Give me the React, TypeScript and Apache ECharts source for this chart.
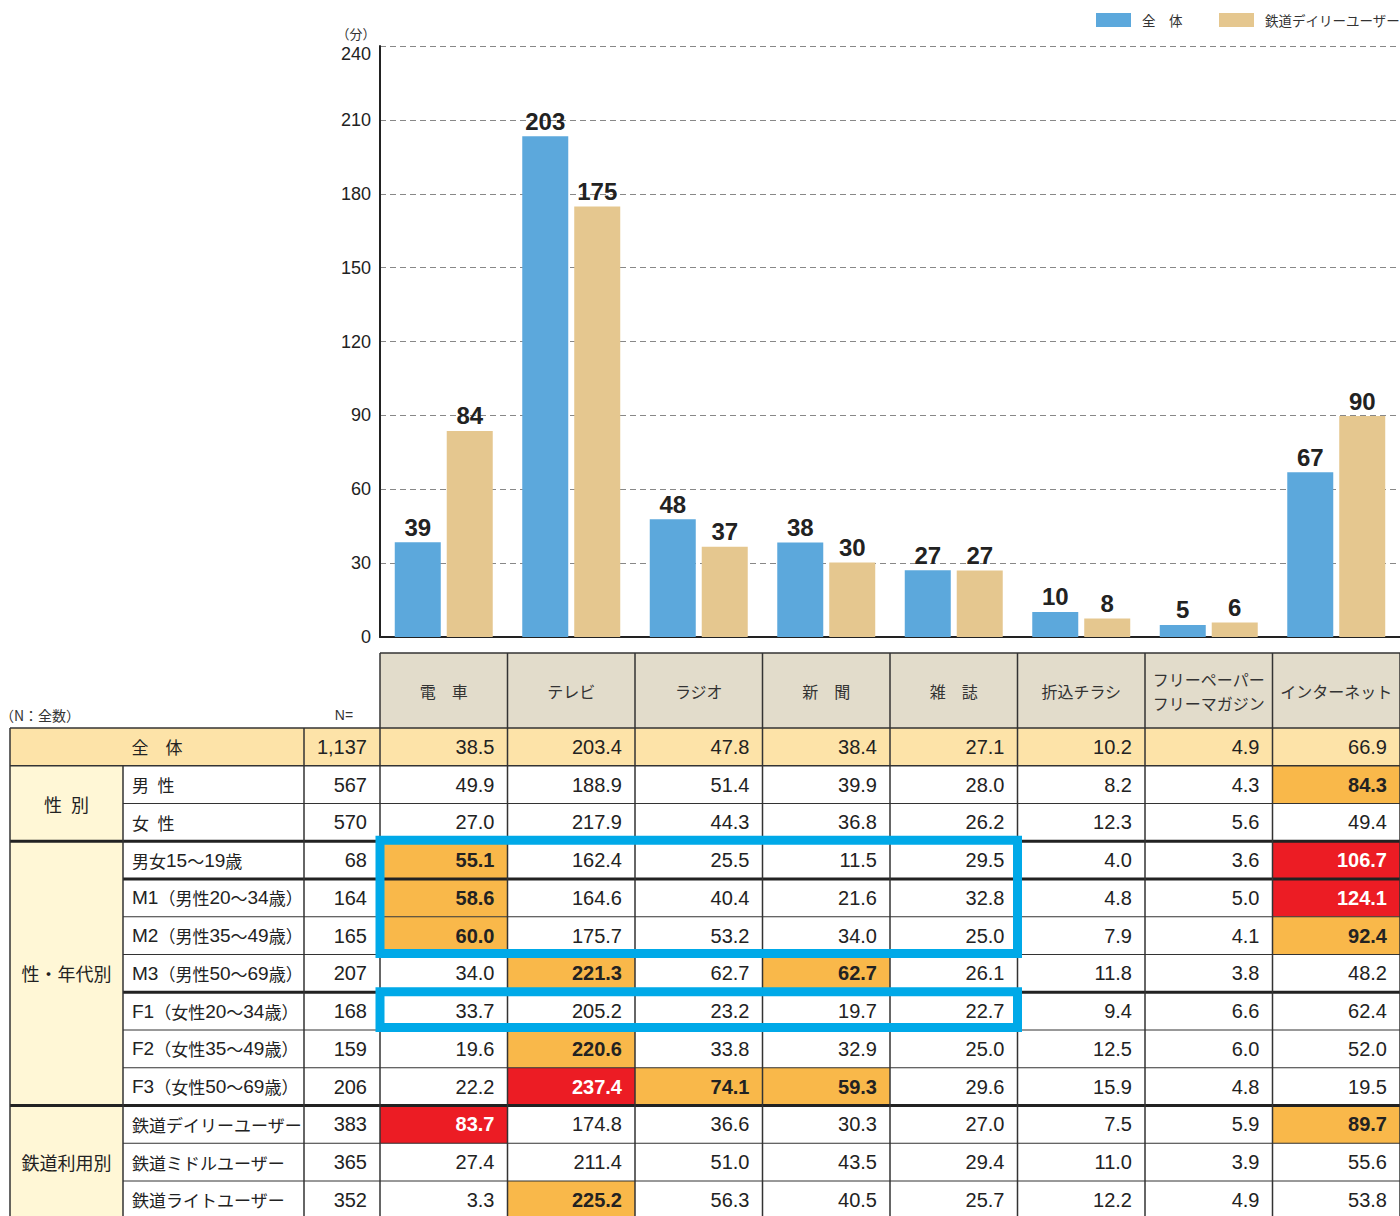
import React, { useEffect, useRef } from "react";
import * as echarts from "echarts";

// ---------- data ----------
const categories = ["電　車", "テレビ", "ラジオ", "新　聞", "雑　誌", "折込チラシ", "フリーペーパー\nフリーマガジン", "インターネット"];
const seriesNames = ["全　体", "鉄道デイリーユーザー"];
const yTicks = [0, 30, 60, 90, 120, 150, 180, 210, 240];

const rowLabels = [
  "全　体",
  "男\u2002性",
  "女\u2002性",
  "男女15～19歳",
  "M1（男性20～34歳）",
  "M2（男性35～49歳）",
  "M3（男性50～69歳）",
  "F1（女性20～34歳）",
  "F2（女性35～49歳）",
  "F3（女性50～69歳）",
  "鉄道デイリーユーザー",
  "鉄道ミドルユーザー",
  "鉄道ライトユーザー",
];
const nValues = [1137, 567, 570, 68, 164, 165, 207, 168, 159, 206, 383, 365, 352];
const tableValues = [
  [38.5, 203.4, 47.8, 38.4, 27.1, 10.2, 4.9, 66.9],
  [49.9, 188.9, 51.4, 39.9, 28.0, 8.2, 4.3, 84.3],
  [27.0, 217.9, 44.3, 36.8, 26.2, 12.3, 5.6, 49.4],
  [55.1, 162.4, 25.5, 11.5, 29.5, 4.0, 3.6, 106.7],
  [58.6, 164.6, 40.4, 21.6, 32.8, 4.8, 5.0, 124.1],
  [60.0, 175.7, 53.2, 34.0, 25.0, 7.9, 4.1, 92.4],
  [34.0, 221.3, 62.7, 62.7, 26.1, 11.8, 3.8, 48.2],
  [33.7, 205.2, 23.2, 19.7, 22.7, 9.4, 6.6, 62.4],
  [19.6, 220.6, 33.8, 32.9, 25.0, 12.5, 6.0, 52.0],
  [22.2, 237.4, 74.1, 59.3, 29.6, 15.9, 4.8, 19.5],
  [83.7, 174.8, 36.6, 30.3, 27.0, 7.5, 5.9, 89.7],
  [27.4, 211.4, 51.0, 43.5, 29.4, 11.0, 3.9, 55.6],
  [3.3, 225.2, 56.3, 40.5, 25.7, 12.2, 4.9, 53.8],
];
// 0 = none, 1 = orange (high), 2 = red (very high)
const highlights = [
  [0, 0, 0, 0, 0, 0, 0, 0],
  [0, 0, 0, 0, 0, 0, 0, 1],
  [0, 0, 0, 0, 0, 0, 0, 0],
  [1, 0, 0, 0, 0, 0, 0, 2],
  [1, 0, 0, 0, 0, 0, 0, 2],
  [1, 0, 0, 0, 0, 0, 0, 1],
  [0, 1, 0, 1, 0, 0, 0, 0],
  [0, 0, 0, 0, 0, 0, 0, 0],
  [0, 1, 0, 0, 0, 0, 0, 0],
  [0, 2, 1, 1, 0, 0, 0, 0],
  [2, 0, 0, 0, 0, 0, 0, 1],
  [0, 0, 0, 0, 0, 0, 0, 0],
  [0, 1, 0, 0, 0, 0, 0, 0],
];
const groups = [
  { label: "性\u2002別", from: 1, to: 3 },
  { label: "性・年代別", from: 3, to: 10 },
  { label: "鉄道利用別", from: 10, to: 13 },
];
const thickRowLines = [3, 4, 7, 10];
const boxes = [
  { from: 3, to: 6, colFrom: 0, colTo: 5 },
  { from: 7, to: 8, colFrom: 0, colTo: 5 },
];
const allRow = 0;
const dailyRow = 10;

// ---------- layout / style ----------
const JP = '"Noto Sans CJK JP", "Noto Sans", sans-serif';
const NUM = '"Liberation Sans", Arial, sans-serif';
const BLUE = "#5ca8dc";
const TAN = "#e5c78f";
const ORANGE = "#f9b84a";
const RED = "#ec1c24";
const HEADER_BG = "#e2dccb";
const TOTAL_BG = "#fde3a8";
const GROUP_BG = "#fff7d6";
const LINE = "#333";

const X0 = 380;
const COLW = 127.5;
const HEAD_TOP = 653;
const HEAD_BOT = 728;
const ROWH = 37.75;
const GX = 10;
const SX = 123;
const NX = 304;
const RIGHT = 1400;

const colX = (i: number) => X0 + i * COLW;
const rowY = (k: number) => HEAD_BOT + k * ROWH;

function txt(text: string, x: number, y: number, font: string, align: string, fill = "#222", z = 20, rich?: any) {
  const style: any = {
    text,
    x,
    y,
    font,
    fill,
    align,
    verticalAlign: "middle",
    textAlign: align,
    textVerticalAlign: "middle",
  };
  if (rich) style.rich = rich;
  return { type: "text", z, silent: true, style };
}
function rect(x: number, y: number, w: number, h: number, fill: string, z = 5) {
  return { type: "rect", z, silent: true, shape: { x, y, width: w, height: h }, style: { fill } };
}
function line(x1: number, y1: number, x2: number, y2: number, lw: number, stroke = LINE, z = 10) {
  return { type: "line", z, silent: true, shape: { x1, y1, x2, y2 }, style: { stroke, lineWidth: lw } };
}

// split a label into rich-text runs: latin letters / digits vs. Japanese characters
function richLabel(s: string) {
  return s.replace(/([A-Za-z0-9]+)|([^A-Za-z0-9]+)/g, (m, a) => (a ? `{a|${m}}` : `{j|${m}}`));
}
const labelRich = {
  a: { fontFamily: NUM, fontSize: 19, fill: "#222", color: "#222" },
  j: { fontFamily: JP, fontSize: 17, fill: "#222", color: "#222" },
};

function buildTable() {
  const g: any[] = [];
  const nRows = rowLabels.length;
  // header
  categories.forEach((c, i) => {
    g.push(rect(colX(i), HEAD_TOP, COLW, HEAD_BOT - HEAD_TOP, HEADER_BG, 5));
    const lines = c.split("\n");
    const cy = (HEAD_TOP + HEAD_BOT) / 2;
    lines.forEach((l, j) => {
      const yy = cy + (j - (lines.length - 1) / 2) * 24;
      g.push(txt(l, colX(i) + COLW / 2, yy, `16px ${JP}`, "center", "#333"));
    });
  });
  g.push(line(X0, HEAD_TOP, RIGHT, HEAD_TOP, 1.5));
  for (let i = 0; i <= categories.length; i++) g.push(line(colX(i), HEAD_TOP, colX(i), HEAD_BOT, 1.5));
  g.push(txt("（N：全数）", 0, 715, `14px ${JP}`, "left", "#333"));
  g.push(txt("N=", 344, 715, `14px ${NUM}`, "center", "#333"));

  // backgrounds
  g.push(rect(GX, rowY(0), RIGHT - GX, ROWH, TOTAL_BG, 3));
  groups.forEach((gr) => {
    g.push(rect(GX, rowY(gr.from), SX - GX, rowY(gr.to) - rowY(gr.from), GROUP_BG, 3));
  });
  for (let r = 0; r < nRows; r++) {
    for (let c = 0; c < categories.length; c++) {
      const h = highlights[r][c];
      if (h) g.push(rect(colX(c), rowY(r), COLW, ROWH, h === 2 ? RED : ORANGE, 4));
    }
  }

  // horizontal lines
  const groupStarts = groups.map((gr) => gr.from);
  for (let k = 0; k <= nRows; k++) {
    const isGroup = k === 0 || k === 1 || groupStarts.includes(k) || k === nRows;
    const thick = thickRowLines.includes(k);
    const x1 = isGroup ? GX : SX;
    g.push(line(x1, rowY(k), RIGHT, rowY(k), thick ? 3.2 : isGroup ? 1.5 : 1, thick ? "#222" : LINE));
  }
  // vertical lines
  const bottom = rowY(nRows);
  g.push(line(GX, rowY(0), GX, bottom, 1.5));
  g.push(line(SX, rowY(1), SX, bottom, 1.5));
  g.push(line(NX, rowY(0), NX, bottom, 1.5));
  for (let i = 0; i <= categories.length; i++) g.push(line(colX(i), rowY(0), colX(i), bottom, 1.5));

  // texts
  g.push(txt(rowLabels[0], (GX + NX) / 2, rowY(0) + ROWH / 2, `17px ${JP}`, "center", "#222"));
  for (let r = 1; r < nRows; r++) {
    g.push(txt(richLabel(rowLabels[r]), SX + 9, rowY(r) + ROWH / 2, `17px ${JP}`, "left", "#222", 20, labelRich));
  }
  groups.forEach((gr) => {
    g.push(txt(gr.label, (GX + SX) / 2, (rowY(gr.from) + rowY(gr.to)) / 2, `18px ${JP}`, "center", "#222"));
  });
  for (let r = 0; r < nRows; r++) {
    g.push(txt(nValues[r].toLocaleString("en-US"), X0 - 13, rowY(r) + ROWH / 2, `20px ${NUM}`, "right", "#222"));
    for (let c = 0; c < categories.length; c++) {
      const h = highlights[r][c];
      const font = h ? `bold 20px ${NUM}` : `20px ${NUM}`;
      const fill = h === 2 ? "#fff" : "#222";
      g.push(txt(tableValues[r][c].toFixed(1), colX(c + 1) - 13, rowY(r) + ROWH / 2, font, "right", fill));
    }
  }

  // blue highlight boxes
  boxes.forEach((b) => {
    const x = colX(b.colFrom);
    const y1 = b.from === 3 ? rowY(b.from) - 1 : rowY(b.from) - 0.5;
    const y2 = rowY(b.to) - (b.to === 6 ? 1 : 2.5);
    g.push({
      type: "rect",
      z: 30,
      silent: true,
      shape: { x, y: y1, width: colX(b.colTo) - x, height: y2 - y1 },
      style: { fill: "rgba(0,0,0,0)", stroke: "#00a9e8", lineWidth: 9 },
    });
  });

  // unit label
  g.push(txt("（分）", 356, 33, `13px ${JP}`, "center", "#333"));
  return g;
}

export default function App() {
  const ref = useRef<HTMLDivElement>(null);
  useEffect(() => {
    document.body.style.margin = "0";
    const chart = echarts.init(ref.current!, undefined, { renderer: "svg" });
    const labelCfg = {
      show: true,
      position: "top",
      distance: 3,
      formatter: (p: any) => String(Math.round(p.value)),
      fontSize: 24,
      fontWeight: "bold",
      color: "#222",
      fontFamily: NUM,
    };
    const legendBase = {
      top: 13,
      padding: 0,
      itemWidth: 35,
      itemHeight: 14,
      icon: "rect",
      selectedMode: false,
      textStyle: { fontSize: 13.5, color: "#333", fontFamily: JP, padding: [0, 0, 0, 6] },
    };
    const topLabel = yTicks[yTicks.length - 1];
    chart.setOption({
      animation: false,
      backgroundColor: "#fff",
      legend: [
        { ...legendBase, left: 1096, data: [seriesNames[0]] },
        { ...legendBase, left: 1219, data: [seriesNames[1]] },
      ],
      grid: { left: X0, right: 0, top: 46, bottom: 1216 - 637, containLabel: false },
      xAxis: {
        type: "category",
        data: categories,
        axisLine: { show: true, lineStyle: { color: "#222", width: 2 } },
        axisTick: { show: false },
        axisLabel: { show: false },
      },
      yAxis: {
        type: "value",
        min: yTicks[0],
        max: topLabel,
        interval: yTicks[1] - yTicks[0],
        axisLine: { show: true, lineStyle: { color: "#222", width: 2 } },
        axisTick: { show: false },
        axisLabel: {
          fontSize: 18,
          color: "#222",
          margin: 9,
          fontFamily: NUM,
          formatter: (v: number) => (v === topLabel ? `{top|${v}}` : `${v}`),
          rich: { top: { fontSize: 18, color: "#222", fontFamily: NUM, padding: [16, 0, 0, 0] } },
        },
        splitLine: { show: true, lineStyle: { color: "#888", type: [6, 4], width: 1 } },
      },
      series: [
        {
          name: seriesNames[0],
          type: "bar",
          data: tableValues[allRow],
          barWidth: 46,
          barGap: "13%",
          itemStyle: { color: BLUE },
          label: labelCfg,
        },
        {
          name: seriesNames[1],
          type: "bar",
          data: tableValues[dailyRow],
          barWidth: 46,
          itemStyle: { color: TAN },
          label: labelCfg,
        },
      ],
      graphic: { elements: buildTable() },
    });
    return () => chart.dispose();
  }, []);
  return <div ref={ref} style={{ position: "absolute", left: 0, top: 0, width: 1400, height: 1216 }} />;
}
